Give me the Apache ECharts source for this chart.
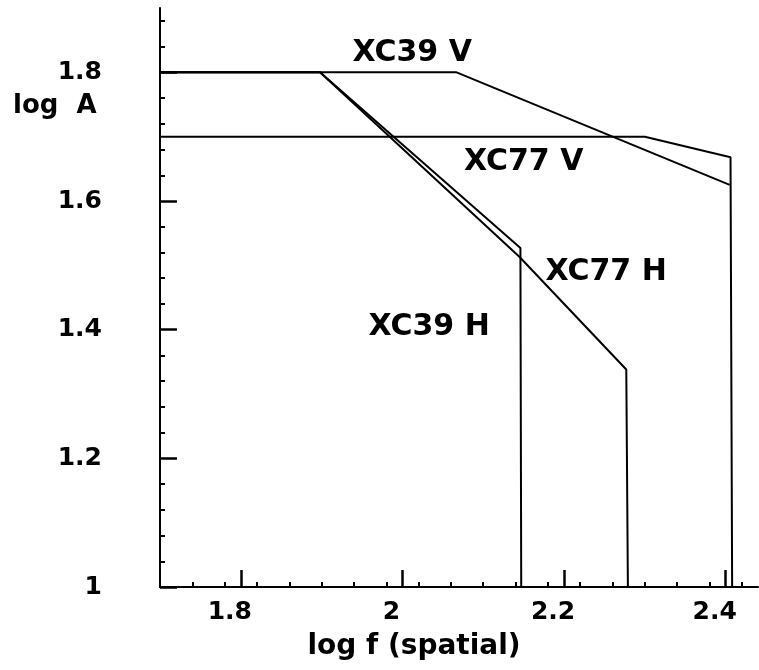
<!DOCTYPE html>
<html>
<head>
<meta charset="utf-8">
<script src="https://cdn.jsdelivr.net/npm/echarts@6/dist/echarts.min.js"></script>
<style>
  html, body { margin: 0; padding: 0; background: #ffffff; }
  #chart { width: 759px; height: 670px; }
</style>
</head>
<body>
<div id="chart"></div>
<script>
// Amplitude limits (log A) against spatial frequency (log f) for two films,
// horizontal (H) and vertical (V) directions.
var xc39V_x = [1.7, 2.067, 2.405];
var xc39V_y = [1.8, 1.8, 1.625];

var xc77V_x = [1.7, 2.300, 2.406, 2.408];
var xc77V_y = [1.7, 1.7, 1.668, 1.0];

var xc39H_x = [1.7, 1.898, 2.146, 2.147];
var xc39H_y = [1.8, 1.8, 1.527, 1.0];

var xc77H_x = [1.7, 1.898, 2.145, 2.277, 2.279];
var xc77H_y = [1.8, 1.8, 1.513, 1.338, 1.0];

// Curve labels and where they sit (data coordinates)
var labelText = ['XC39 V', 'XC77 V', 'XC77 H', 'XC39 H'];
var labelX = [2.012, 2.150, 2.252, 2.033];
var labelY = [1.829, 1.660, 1.489, 1.404];

// Axis ranges and tick labels
var xMin = 1.7, xMax = 2.44;
var yMin = 1.0, yMax = 1.9;
var xTicks = [1.8, 2, 2.2, 2.4];
var yTicks = [1, 1.2, 1.4, 1.6, 1.8];
var minorStep = 0.04;

function minorValues(lo, hi, majors) {
  var out = [];
  var n = Math.round((hi - lo) / minorStep);
  for (var i = 1; i <= n; i++) {
    var v = +(lo + i * minorStep).toFixed(4);
    var isMajor = majors.some(function (m) { return Math.abs(m - v) < 1e-6; });
    if (!isMajor && v <= hi + 1e-9) out.push(v);
  }
  return out;
}

function pairs(xs, ys) {
  return xs.map(function (x, i) { return [x, ys[i]]; });
}

var FONT = 'DejaVu Sans';
var lineStyle = { color: '#000', width: 2 };

function curve(name, xs, ys) {
  return {
    name: name,
    type: 'line',
    xAxisIndex: 0,
    yAxisIndex: 0,
    data: pairs(xs, ys),
    symbol: 'none',
    lineStyle: lineStyle,
    silent: true,
    clip: false
  };
}

var chart = echarts.init(document.getElementById('chart'), null, { renderer: 'canvas' });

var option = {
  animation: false,
  backgroundColor: '#ffffff',
  grid: { left: 160, right: 1, top: 8, bottom: 83, containLabel: false },
  xAxis: [
    {
      type: 'value', min: xMin, max: xMax,
      axisLine: { show: true, onZero: false, lineStyle: { color: '#000', width: 2 } },
      axisTick: { show: true, inside: true, length: 17, customValues: xTicks,
                  lineStyle: { color: '#000', width: 2.5 } },
      axisLabel: { show: true, customValues: xTicks, margin: 13, color: '#000',
                   fontFamily: FONT, fontWeight: 'bold', fontSize: 25,
                   padding: [0, 22, 0, 0] },
      splitLine: { show: false },
      name: 'log f (spatial)', nameLocation: 'middle', nameGap: 46,
      nameTextStyle: { color: '#000', fontFamily: FONT, fontWeight: 'bold', fontSize: 28,
                       padding: [0, 90, 0, 0] }
    },
    {
      type: 'value', min: xMin, max: xMax, position: 'bottom',
      axisLine: { show: false },
      axisTick: { show: true, inside: true, length: 5,
                  customValues: minorValues(xMin, xMax, xTicks),
                  lineStyle: { color: '#000', width: 2 } },
      axisLabel: { show: false },
      splitLine: { show: false }
    }
  ],
  yAxis: [
    {
      type: 'value', min: yMin, max: yMax,
      axisLine: { show: true, onZero: false, lineStyle: { color: '#000', width: 2 } },
      axisTick: { show: true, inside: true, length: 17, customValues: yTicks,
                  lineStyle: { color: '#000', width: 2.5 } },
      axisLabel: { show: true, customValues: yTicks, margin: 58, color: '#000',
                   fontFamily: FONT, fontWeight: 'bold', fontSize: 25 },
      splitLine: { show: false }
    },
    {
      type: 'value', min: yMin, max: yMax, position: 'left',
      axisLine: { show: false },
      axisTick: { show: true, inside: true, length: 5,
                  customValues: minorValues(yMin, yMax - 0.02, yTicks),
                  lineStyle: { color: '#000', width: 2 } },
      axisLabel: { show: false },
      splitLine: { show: false }
    }
  ],
  graphic: [
    {
      type: 'text', left: 13, top: 93,
      style: { text: 'log  A', fill: '#000', font: 'bold 26px "DejaVu Sans"' }
    }
  ],
  series: [
    curve('XC39 V', xc39V_x, xc39V_y),
    curve('XC77 V', xc77V_x, xc77V_y),
    curve('XC39 H', xc39H_x, xc39H_y),
    curve('XC77 H', xc77H_x, xc77H_y),
    {
      name: 'labels',
      type: 'scatter',
      symbolSize: 0,
      silent: true,
      itemStyle: { color: '#000', opacity: 1 },
      data: labelText.map(function (t, i) { return { value: [labelX[i], labelY[i]], name: t }; }),
      label: {
        show: true, position: [0, 0], align: 'center', verticalAlign: 'middle',
        formatter: '{b}', color: '#000', opacity: 1, textBorderWidth: 0,
        fontFamily: FONT, fontWeight: 'bold', fontSize: 30
      }
    }
  ]
};

chart.setOption(option);
</script>
</body>
</html>
